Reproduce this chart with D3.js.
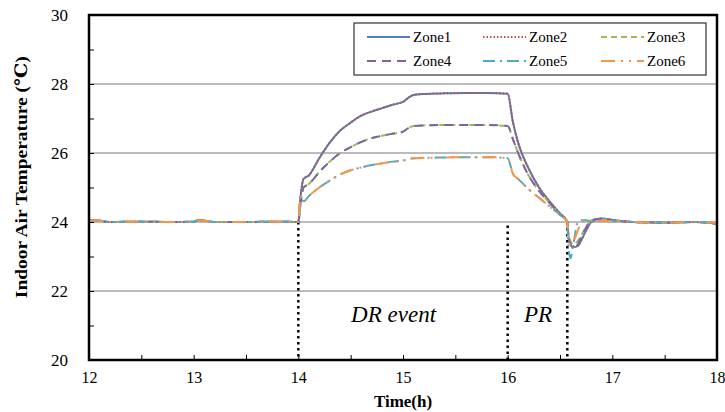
<!DOCTYPE html>
<html>
<head>
<meta charset="utf-8">
<script src="https://cdn.jsdelivr.net/npm/d3@7"></script>
<style>
  body { margin: 0; background: #fff; }
</style>
</head>
<body>
<div id="chart"></div>
<script>
    // time (h) shared by all zones
    var times = [12, 12.05, 12.2, 12.5, 12.8, 13, 13.05, 13.2, 13.5, 13.8,
      14, 14.02, 14.05, 14.1, 14.2, 14.3, 14.4, 14.5, 14.6, 14.7, 14.8, 14.9,
      15, 15.05, 15.1, 15.2, 15.4, 15.6, 15.8, 16, 16.05, 16.1, 16.2, 16.3, 16.4, 16.5,
      16.57, 16.58, 16.6, 16.63, 16.67, 16.7, 16.75, 16.8, 16.9, 17, 17.2, 17.5, 17.8, 18];

    var zone1 = [24.02, 24.06, 24.0, 24.01, 24.0, 24.01, 24.06, 24.0, 24.0, 24.01,
      24.0, 24.7, 25.25, 25.35, 25.85, 26.3, 26.65, 26.88, 27.08, 27.2, 27.3, 27.4,
      27.48, 27.6, 27.68, 27.71, 27.73, 27.74, 27.74, 27.72, 26.9, 26.3, 25.55, 25.0, 24.6, 24.25,
      24.0, 23.6, 23.35, 23.27, 23.3, 23.45, 23.75, 24.0, 24.1, 24.06, 24.0, 23.98, 24.0, 23.95];
    var zone2 = [24.02, 24.06, 24.0, 24.01, 24.0, 24.01, 24.06, 24.0, 24.0, 24.01,
      24.0, 24.7, 25.25, 25.35, 25.85, 26.3, 26.65, 26.88, 27.08, 27.2, 27.3, 27.4,
      27.48, 27.6, 27.68, 27.71, 27.73, 27.74, 27.74, 27.72, 26.9, 26.3, 25.55, 25.0, 24.6, 24.25,
      24.0, 23.62, 23.38, 23.3, 23.32, 23.47, 23.77, 24.0, 24.1, 24.06, 24.0, 23.98, 24.0, 23.95];
    var zone3 = [24.02, 24.05, 24.0, 24.01, 24.0, 24.01, 24.05, 24.0, 24.0, 24.01,
      24.0, 24.5, 25.0, 25.1, 25.45, 25.75, 26.0, 26.17, 26.32, 26.43, 26.5, 26.56,
      26.62, 26.72, 26.78, 26.8, 26.81, 26.81, 26.81, 26.78, 26.4, 26.0, 25.35, 24.9, 24.55, 24.22,
      24.0, 23.7, 23.45, 23.35, 23.45, 23.6, 23.85, 24.05, 24.08, 24.05, 24.0, 23.98, 24.0, 23.95];
    var zone4 = [24.02, 24.05, 24.0, 24.01, 24.0, 24.01, 24.05, 24.0, 24.0, 24.01,
      24.0, 24.5, 25.0, 25.1, 25.45, 25.75, 26.0, 26.17, 26.32, 26.43, 26.5, 26.56,
      26.62, 26.72, 26.78, 26.8, 26.81, 26.81, 26.81, 26.78, 26.4, 26.0, 25.35, 24.9, 24.55, 24.22,
      24.0, 23.6, 23.35, 23.25, 23.35, 23.55, 23.85, 24.05, 24.1, 24.05, 24.0, 23.98, 24.0, 23.95];
    var zone5 = [24.03, 24.05, 24.0, 24.01, 24.0, 24.01, 24.05, 24.0, 24.0, 24.01,
      24.0, 24.75, 24.6, 24.75, 25.0, 25.2, 25.38, 25.5, 25.58, 25.65, 25.7, 25.75,
      25.78, 25.82, 25.85, 25.86, 25.87, 25.88, 25.88, 25.85, 25.4, 25.25, 24.95, 24.7, 24.45, 24.2,
      24.0, 23.3, 22.95, 23.4, 24.0, 24.05, 24.05, 24.03, 24.03, 24.02, 24.0, 23.98, 24.0, 23.97];
    var zone6 = [24.03, 24.05, 24.0, 24.01, 24.0, 24.01, 24.05, 24.0, 24.0, 24.01,
      24.0, 24.75, 24.6, 24.75, 25.0, 25.2, 25.38, 25.5, 25.58, 25.65, 25.7, 25.75,
      25.78, 25.82, 25.85, 25.86, 25.87, 25.88, 25.88, 25.85, 25.4, 25.25, 24.95, 24.7, 24.45, 24.2,
      24.0, 23.5, 23.35, 23.45, 23.75, 23.95, 24.05, 24.05, 24.03, 24.02, 24.0, 23.98, 24.0, 23.97];

    var zoneNames = ["Zone1", "Zone2", "Zone3", "Zone4", "Zone5", "Zone6"];
    var zoneValues = [zone1, zone2, zone3, zone4, zone5, zone6];
    var xTicks = [12, 13, 14, 15, 16, 17, 18];
    var yTicks = [20, 22, 24, 26, 28, 30];
    var gridTicks = [22, 24, 26, 28];
    var markerTimes = [14, 16, 16.57];   // dotted vertical lines
    var phaseLabels = [{ text: "DR event", t: 14.91 }, { text: "PR", t: 16.29 }];

    var serif = "'Liberation Serif', 'Times New Roman', Tinos, 'DejaVu Serif', serif";

    var zoneStyle = [
      { color: "#4F81BD", dash: null },
      { color: "#C0504D", dash: "1.5,2" },
      { color: "#9BBB59", dash: "6,4" },
      { color: "#8064A2", dash: "9,6" },
      { color: "#4BACC6", dash: "12,5,2,5" },
      { color: "#F79646", dash: "14,6,2,6,2,6" }
    ];

    // set the dimensions and margins of the graph
    var margin = { top: 15, right: 8, bottom: 52, left: 89 },
      width = 725 - margin.left - margin.right,
      height = 412 - margin.top - margin.bottom;

    var svg = d3.select("#chart")
      .append("svg")
      .attr("width", 725)
      .attr("height", 412)
      .append("g")
      .attr("transform", "translate(" + margin.left + "," + margin.top + ")");

    var x = d3.scaleLinear().domain([12, 18]).range([0, width]);
    var y = d3.scaleLinear().domain([20, 30]).range([height, 0]);

    // gridlines
    svg.selectAll(".grid")
      .data(gridTicks)
      .enter()
      .append("line")
      .attr("x1", 0).attr("x2", width)
      .attr("y1", function (d) { return y(d); })
      .attr("y2", function (d) { return y(d); })
      .attr("stroke", "#a6a6a6")
      .attr("stroke-width", 1.3);

    // X axis (inside ticks every half hour)
    var xAxis = svg.append("g")
      .attr("transform", "translate(0," + height + ")")
      .call(d3.axisBottom(x).tickValues(d3.range(12, 18.01, 0.5)).tickSize(-5).tickFormat(""));
    xAxis.select(".domain").remove();
    xAxis.selectAll("line").attr("stroke", "#000");

    svg.append("g")
      .attr("transform", "translate(0," + height + ")")
      .call(d3.axisBottom(x).tickValues(xTicks).tickSize(0).tickPadding(12).tickFormat(d3.format("d")))
      .call(function (g) { g.select(".domain").remove(); })
      .selectAll("text")
      .style("font-family", serif)
      .style("font-size", "16px")
      .attr("fill", "#000");

    // Y axis (inside ticks every degree)
    var yAxis = svg.append("g")
      .call(d3.axisLeft(y).tickValues(d3.range(20, 30.01, 1)).tickSize(-5).tickFormat(""));
    yAxis.select(".domain").remove();
    yAxis.selectAll("line").attr("stroke", "#000");

    svg.append("g")
      .call(d3.axisLeft(y).tickValues(yTicks).tickSize(0).tickPadding(21).tickFormat(d3.format("d")))
      .call(function (g) { g.select(".domain").remove(); })
      .selectAll("text")
      .style("font-family", serif)
      .style("font-size", "17px")
      .attr("fill", "#000");

    // dotted markers
    svg.selectAll(".marker")
      .data(markerTimes)
      .enter()
      .append("line")
      .attr("x1", function (d) { return x(d); })
      .attr("x2", function (d) { return x(d); })
      .attr("y1", function (d, i) { return y(i == 1 ? 23.9 : 24); })
      .attr("y2", height)
      .attr("stroke", "#000")
      .attr("stroke-width", 2.5)
      .attr("stroke-dasharray", "2.5,3.5");

    // zone lines
    var line = d3.line()
      .x(function (d) { return x(d[0]); })
      .y(function (d) { return y(d[1]); })
      .curve(d3.curveMonotoneX);

    zoneValues.forEach(function (vals, i) {
      svg.append("path")
        .datum(times.map(function (t, k) { return [t, vals[k]]; }))
        .attr("fill", "none")
        .attr("stroke", zoneStyle[i].color)
        .attr("stroke-width", 2)
        .attr("stroke-dasharray", zoneStyle[i].dash)
        .attr("d", line);
    });

    // phase labels
    svg.selectAll(".phase")
      .data(phaseLabels)
      .enter()
      .append("text")
      .attr("x", function (d) { return x(d.t); })
      .attr("y", y(21.1))
      .attr("text-anchor", "middle")
      .style("font-family", serif)
      .style("font-style", "italic")
      .style("font-size", "23px")
      .text(function (d) { return d.text; });

    // plot frame
    svg.append("rect")
      .attr("width", width)
      .attr("height", height)
      .attr("fill", "none")
      .attr("stroke", "#000")
      .attr("stroke-width", 2.5);

    // legend
    var legend = svg.append("g").attr("transform", "translate(" + (354 - margin.left) + "," + (23 - margin.top) + ")");
    legend.append("rect")
      .attr("width", 352)
      .attr("height", 52)
      .attr("fill", "#fff")
      .attr("stroke", "#333")
      .attr("stroke-width", 1.2);

    var entry = legend.selectAll(".entry")
      .data(zoneNames)
      .enter()
      .append("g")
      .attr("transform", function (d, i) {
        return "translate(" + [13, 129, 247][i % 3] + "," + (i < 3 ? 14 : 38) + ")";
      });
    entry.append("line")
      .attr("x1", 0).attr("x2", 43)
      .attr("stroke", function (d, i) { return zoneStyle[i].color; })
      .attr("stroke-width", 2)
      .attr("stroke-dasharray", function (d, i) { return zoneStyle[i].dash; });
    entry.append("text")
      .attr("x", 46)
      .attr("y", 5)
      .style("font-family", serif)
      .style("font-size", "15px")
      .text(function (d) { return d; });

    // axis titles
    svg.append("text")
      .attr("x", width / 2)
      .attr("y", height + 47)
      .attr("text-anchor", "middle")
      .style("font-family", serif)
      .style("font-weight", "bold")
      .style("font-size", "17px")
      .text("Time(h)");

    svg.append("text")
      .attr("transform", "translate(" + (-62) + "," + (y(25.3)) + ")rotate(-90)")
      .attr("text-anchor", "middle")
      .style("font-family", serif)
      .style("font-weight", "bold")
      .style("font-size", "17px")
      .attr("textLength", 242)
      .attr("lengthAdjust", "spacingAndGlyphs")
      .text("Indoor Air Temperature (℃)");
</script>
</body>
</html>
